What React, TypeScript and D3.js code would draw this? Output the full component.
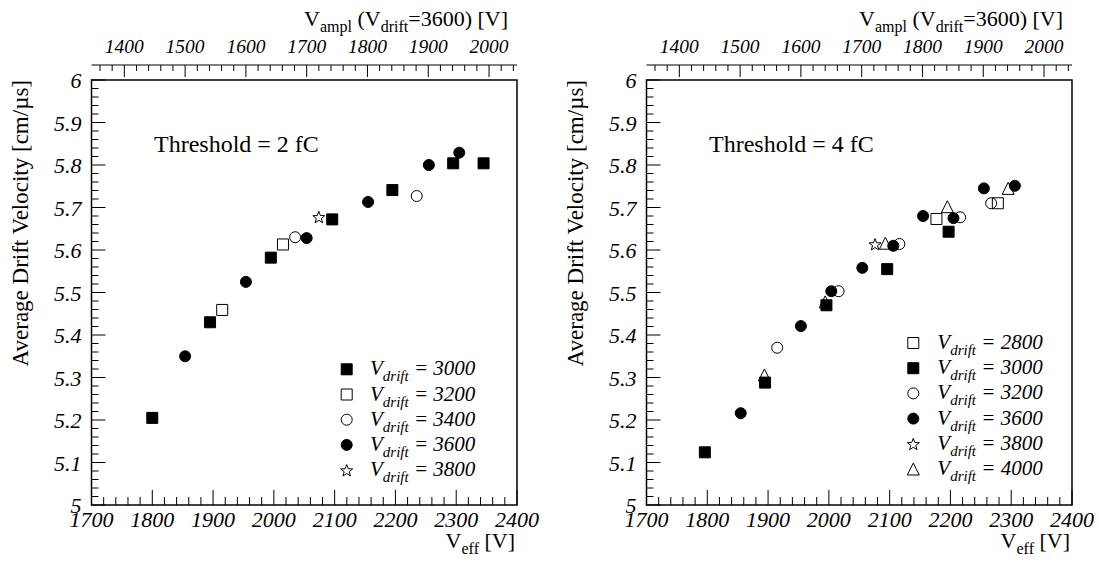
import React from "react";
import * as d3 from "d3";

// ---------- data ----------
const effTicks = [1700, 1800, 1900, 2000, 2100, 2200, 2300, 2400];
const amplTicks = [1400, 1500, 1600, 1700, 1800, 1900, 2000];
const velTicks = [5, 5.1, 5.2, 5.3, 5.4, 5.5, 5.6, 5.7, 5.8, 5.9, 6];
const effDomain = [1700, 2400];
const amplDomain = [1346, 2046];
const velDomain = [5, 6];

// Threshold = 2 fC
const left3000 = [[1800, 5.205], [1895, 5.43], [1995, 5.582], [2096, 5.672], [2195, 5.741], [2295, 5.804], [2345, 5.804]];
const left3200 = [[1915, 5.459], [2015, 5.613]];
const left3400 = [[2035, 5.63], [2235, 5.727]];
const left3600 = [[1854, 5.35], [1954, 5.525], [2054, 5.628], [2155, 5.713], [2255, 5.8], [2305, 5.829]];
const left3800 = [[2074, 5.678]];

// Threshold = 4 fC
const right2800 = [[2177, 5.673], [2278, 5.71]];
const right3000 = [[1796, 5.124], [1895, 5.288], [1996, 5.47], [2096, 5.555], [2197, 5.643]];
const right3200 = [[1915, 5.37], [2016, 5.503], [2116, 5.614], [2216, 5.677], [2267, 5.71]];
const right3600 = [[1855, 5.216], [1954, 5.421], [2004, 5.503], [2055, 5.558], [2106, 5.61], [2155, 5.68], [2205, 5.675], [2255, 5.745], [2306, 5.751]];
const right3800 = [[2076, 5.614]];
const right4000 = [[1894, 5.306], [1994, 5.478], [2093, 5.616], [2195, 5.702], [2295, 5.745]];

// ---------- marker shapes ----------
const squareType = {
  draw(ctx: any, size: number) {
    const h = Math.sqrt(size) / 2;
    ctx.rect(-h, -h, 2 * h, 2 * h);
  },
};
const circleType = {
  draw(ctx: any, size: number) {
    const r = Math.sqrt(size) / 2;
    ctx.moveTo(r, 0);
    ctx.arc(0, 0, r, 0, 2 * Math.PI);
  },
};
const starType = {
  draw(ctx: any, size: number) {
    const R = Math.sqrt(size) / 2 + 0.8;
    const r = R * 0.42;
    for (let i = 0; i < 10; i++) {
      const a = -Math.PI / 2 + (i * Math.PI) / 5;
      const rr = i % 2 === 0 ? R : r;
      const px = rr * Math.cos(a);
      const py = rr * Math.sin(a) + 0.8;
      if (i === 0) ctx.moveTo(px, py);
      else ctx.lineTo(px, py);
    }
    ctx.closePath();
  },
};
const triangleType = {
  draw(ctx: any, size: number) {
    const h = Math.sqrt(size) / 2 + 0.5;
    ctx.moveTo(0, -h);
    ctx.lineTo(h, h);
    ctx.lineTo(-h, h);
    ctx.closePath();
  },
};

const MS = 121; // marker "size" (side^2)

type Kind = "fsq" | "osq" | "oci" | "fci" | "star" | "tri";
const kindStyle: Record<Kind, { type: any; filled: boolean }> = {
  fsq: { type: squareType, filled: true },
  osq: { type: squareType, filled: false },
  oci: { type: circleType, filled: false },
  fci: { type: circleType, filled: true },
  star: { type: starType, filled: false },
  tri: { type: triangleType, filled: false },
};

function Marker({ kind, x, y }: { kind: Kind; x: number; y: number }) {
  const st = kindStyle[kind];
  const p = d3.symbol().type(st.type).size(MS)() as string;
  return (
    <path
      d={p}
      transform={`translate(${x},${y})`}
      fill={st.filled ? "#000" : "none"}
      stroke="#000"
      strokeWidth={1}
    />
  );
}

const FONT = "Liberation Serif";
const TS: React.CSSProperties = { fontFamily: FONT };
const TI: React.CSSProperties = { fontFamily: FONT, fontStyle: "italic" };

interface Series {
  label: string;
  kind: Kind;
  data: number[][];
}

function Panel({
  dx,
  threshold,
  series,
  legendX,
  legendTextX,
  legendY0,
}: {
  dx: number;
  threshold: string;
  series: Series[];
  legendX: number;
  legendTextX: number;
  legendY0: number;
}) {
  const x0 = 91.5 + dx;
  const x1 = 517 + dx;
  const yTop = 80;
  const yBot = 505;
  const x = d3.scaleLinear().domain(effDomain).range([x0, x1]);
  const xa = d3.scaleLinear().domain(amplDomain).range([x0, x1]);
  const y = d3.scaleLinear().domain(velDomain).range([yBot, yTop]);

  const xMinor = d3.range(1700, 2400.1, 20);
  const yMinor = d3.range(5, 6.001, 0.02);
  const aMinor = d3.range(1360, 2046, 20);
  const axisY = 65;

  const order = [...series].sort((a, b) => (kindStyle[a.kind].filled ? 1 : 0) - (kindStyle[b.kind].filled ? 1 : 0));

  return (
    <g>
      <rect x={x0} y={yTop} width={x1 - x0} height={yBot - yTop} fill="none" stroke="#000" strokeWidth={1.5} />

      {xMinor.map((v, i) => {
        const major = Math.abs(v % 100) < 1e-6;
        return <line key={"xm" + i} x1={x(v)} x2={x(v)} y1={yBot} y2={yBot - (major ? 15 : 8)} stroke="#000" strokeWidth={1} />;
      })}
      {effTicks.map((v) => (
        <text key={"xl" + v} x={x(v)} y={527} textAnchor="middle" fontSize={22} style={TI}>
          {v}
        </text>
      ))}

      {yMinor.map((v, i) => {
        const major = i % 5 === 0;
        return <line key={"ym" + i} x1={x0} x2={x0 + (major ? 14 : 7)} y1={y(v)} y2={y(v)} stroke="#000" strokeWidth={1} />;
      })}
      {velTicks.map((v) => (
        <text key={"yl" + v} x={x0 - 10} y={y(v) + 8} textAnchor="end" fontSize={22} style={TI}>
          {String(v)}
        </text>
      ))}

      <line x1={x0} x2={x1} y1={axisY} y2={axisY} stroke="#000" strokeWidth={1} />
      {aMinor.map((v, i) => {
        const major = Math.abs(v % 100) < 1e-6;
        return <line key={"am" + i} x1={xa(v)} x2={xa(v)} y1={axisY} y2={axisY + (major ? 12 : 6)} stroke="#000" strokeWidth={1} />;
      })}
      {amplTicks.map((v) => (
        <text key={"al" + v} x={xa(v)} y={53} textAnchor="middle" fontSize={19.5} style={TI}>
          {v}
        </text>
      ))}
      <text x={508 + dx} y={26} textAnchor="end" fontSize={22} style={TS}>
        <tspan>V</tspan>
        <tspan fontSize={16} dy={6}>ampl</tspan>
        <tspan dy={-6}> (V</tspan>
        <tspan fontSize={16} dy={6}>drift</tspan>
        <tspan dy={-6}>=3600) [V]</tspan>
      </text>

      <text x={515 + dx} y={548} textAnchor="end" fontSize={22} style={TS}>
        <tspan>V</tspan>
        <tspan fontSize={16} dy={6}>eff</tspan>
        <tspan dy={-6}> [V]</tspan>
      </text>
      <text transform={`translate(${28 + dx},80) rotate(-90)`} textAnchor="end" fontSize={23} style={TS}>
        Average Drift Velocity [cm/µs]
      </text>

      <text x={154 + dx} y={152} fontSize={24} style={TS}>
        {threshold}
      </text>

      {order.map((s) =>
        s.data.map((d, i) => <Marker key={s.label + i} kind={s.kind} x={x(d[0])} y={y(d[1])} />)
      )}

      {series.map((s, i) => {
        const cy = legendY0 + i * 25.2;
        return (
          <g key={"lg" + s.label}>
            <Marker kind={s.kind} x={legendX} y={cy} />
            <text x={legendTextX} y={cy + 6} fontSize={21} style={TI}>
              <tspan>V</tspan>
              <tspan fontSize={15} dy={6}>drift</tspan>
              <tspan dy={-6}> = {s.label}</tspan>
            </text>
          </g>
        );
      })}
    </g>
  );
}

const leftSeries: Series[] = [
  { label: "3000", kind: "fsq", data: left3000 },
  { label: "3200", kind: "osq", data: left3200 },
  { label: "3400", kind: "oci", data: left3400 },
  { label: "3600", kind: "fci", data: left3600 },
  { label: "3800", kind: "star", data: left3800 },
];

const rightSeries: Series[] = [
  { label: "2800", kind: "osq", data: right2800 },
  { label: "3000", kind: "fsq", data: right3000 },
  { label: "3200", kind: "oci", data: right3200 },
  { label: "3600", kind: "fci", data: right3600 },
  { label: "3800", kind: "star", data: right3800 },
  { label: "4000", kind: "tri", data: right4000 },
];

export default function App() {
  return (
    <svg
      width={1099}
      height={565}
      style={{ position: "absolute", left: 0, top: 0, background: "#fff", fontFamily: FONT }}
    >
      <rect width={1099} height={565} fill="#fff" />
      <Panel dx={0} threshold="Threshold = 2 fC" series={leftSeries} legendX={346.7} legendTextX={370} legendY0={369.3} />
      <Panel dx={555} threshold="Threshold = 4 fC" series={rightSeries} legendX={913.3} legendTextX={937.3} legendY0={343} />
    </svg>
  );
}
